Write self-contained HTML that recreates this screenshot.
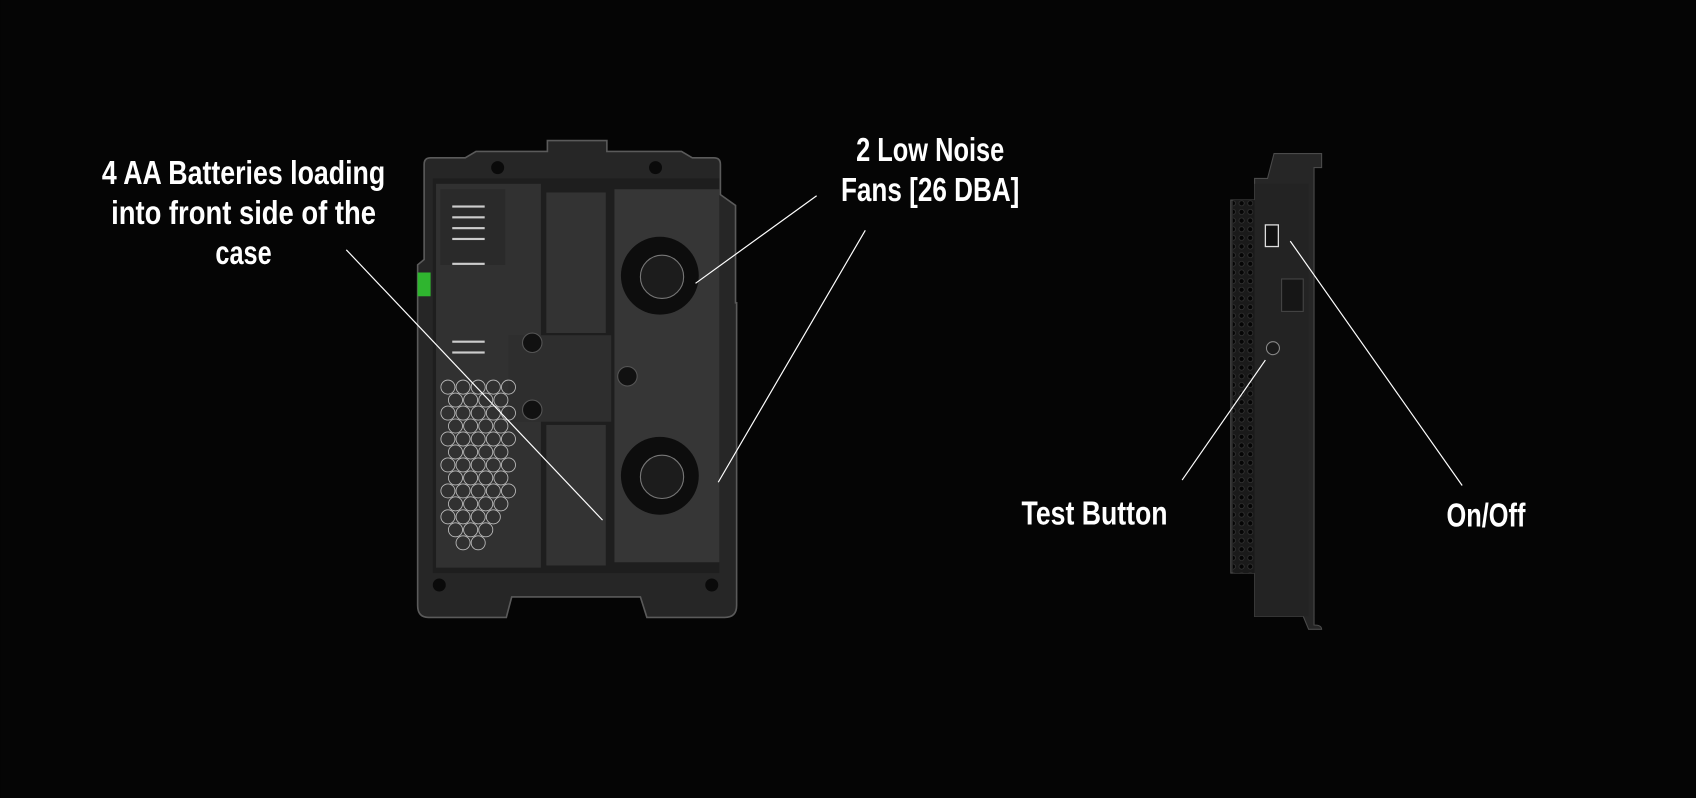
<!DOCTYPE html>
<html><head><meta charset="utf-8"><style>html,body{margin:0;padding:0;background:#050505;}svg{display:block}</style></head>
<body>
<svg width="1696" height="798" viewBox="0 0 1568 738" xmlns="http://www.w3.org/2000/svg">
<rect width="1568" height="738" fill="#050505"/>
<defs>
<pattern id="hex" width="8" height="8" patternUnits="userSpaceOnUse"><rect width="8" height="8" fill="#1a1a1a"/><circle cx="4" cy="4" r="2.4" fill="#050505" stroke="#3a3a3a" stroke-width="0.6"/></pattern>
</defs>
<path d="M506 130 H561 V140 H630 L640 146 H660 Q666 146 666 152 V180 L680 190 V280 H681 V560 Q681 571 670 571 H598 L592 552 H473 L468 571 H396 Q386 571 386 560 V245 L392 240 V152 Q392 146 398 146 H430 L440 140 H506 Z" fill="#262626" stroke="#5a5a5a" stroke-width="1.5"/>
<rect x="400" y="165" width="265" height="365" fill="#1e1e1e"/>
<rect x="403" y="170" width="97" height="355" fill="#313131"/>
<rect x="505" y="178" width="55" height="130" fill="#333"/>
<rect x="505" y="393" width="55" height="130" fill="#333"/>
<rect x="470" y="310" width="95" height="80" fill="#2e2e2e"/>
<path d="M568 175 H665 V520 H568 Z" fill="#363636"/>
<rect x="407" y="175" width="60" height="70" fill="#2a2a2a"/>
<g fill="#ccc"><rect x="418" y="190" width="30" height="2"/><rect x="418" y="200" width="30" height="2"/><rect x="418" y="210" width="30" height="2"/><rect x="418" y="220" width="30" height="2"/><rect x="418" y="243" width="30" height="2"/><rect x="418" y="315" width="30" height="2"/><rect x="418" y="325" width="30" height="2"/></g>
<rect x="386" y="252" width="12" height="22" fill="#2fb52f"/>
<g fill="none" stroke="#bbb" stroke-width="0.8">
<circle cx="414" cy="358" r="6.5"/><circle cx="428" cy="358" r="6.5"/><circle cx="442" cy="358" r="6.5"/><circle cx="456" cy="358" r="6.5"/><circle cx="470" cy="358" r="6.5"/>
<circle cx="421" cy="370" r="6.5"/><circle cx="435" cy="370" r="6.5"/><circle cx="449" cy="370" r="6.5"/><circle cx="463" cy="370" r="6.5"/>
<circle cx="414" cy="382" r="6.5"/><circle cx="428" cy="382" r="6.5"/><circle cx="442" cy="382" r="6.5"/><circle cx="456" cy="382" r="6.5"/><circle cx="470" cy="382" r="6.5"/>
<circle cx="421" cy="394" r="6.5"/><circle cx="435" cy="394" r="6.5"/><circle cx="449" cy="394" r="6.5"/><circle cx="463" cy="394" r="6.5"/>
<circle cx="414" cy="406" r="6.5"/><circle cx="428" cy="406" r="6.5"/><circle cx="442" cy="406" r="6.5"/><circle cx="456" cy="406" r="6.5"/><circle cx="470" cy="406" r="6.5"/>
<circle cx="421" cy="418" r="6.5"/><circle cx="435" cy="418" r="6.5"/><circle cx="449" cy="418" r="6.5"/><circle cx="463" cy="418" r="6.5"/>
<circle cx="414" cy="430" r="6.5"/><circle cx="428" cy="430" r="6.5"/><circle cx="442" cy="430" r="6.5"/><circle cx="456" cy="430" r="6.5"/><circle cx="470" cy="430" r="6.5"/>
<circle cx="421" cy="442" r="6.5"/><circle cx="435" cy="442" r="6.5"/><circle cx="449" cy="442" r="6.5"/><circle cx="463" cy="442" r="6.5"/>
<circle cx="414" cy="454" r="6.5"/><circle cx="428" cy="454" r="6.5"/><circle cx="442" cy="454" r="6.5"/><circle cx="456" cy="454" r="6.5"/><circle cx="470" cy="454" r="6.5"/>
<circle cx="421" cy="466" r="6.5"/><circle cx="435" cy="466" r="6.5"/><circle cx="449" cy="466" r="6.5"/><circle cx="463" cy="466" r="6.5"/>
<circle cx="414" cy="478" r="6.5"/><circle cx="428" cy="478" r="6.5"/><circle cx="442" cy="478" r="6.5"/><circle cx="456" cy="478" r="6.5"/>
<circle cx="421" cy="490" r="6.5"/><circle cx="435" cy="490" r="6.5"/><circle cx="449" cy="490" r="6.5"/>
<circle cx="428" cy="502" r="6.5"/><circle cx="442" cy="502" r="6.5"/>
</g>
<g fill="#0a0a0a"><circle cx="460" cy="155" r="6"/><circle cx="606" cy="155" r="6"/><circle cx="406" cy="541" r="6"/><circle cx="658" cy="541" r="6"/></g>
<g fill="#111" stroke="#555"><circle cx="492" cy="317" r="9"/><circle cx="492" cy="379" r="9"/><circle cx="580" cy="348" r="9"/></g>
<g><circle cx="610" cy="255" r="36" fill="#0d0d0d"/><circle cx="612" cy="256" r="20" fill="#1c1c1c" stroke="#777" stroke-width="1"/>
<circle cx="610" cy="440" r="36" fill="#0d0d0d"/><circle cx="612" cy="441" r="20" fill="#1c1c1c" stroke="#777" stroke-width="1"/></g>
<path d="M1172 165 L1178 142 H1222 V155 H1215 V578 Q1222 578 1222 582 H1210 L1205 570 H1160 V530 H1138 V185 H1160 V165 Z" fill="#262626" stroke="#4a4a4a"/>
<rect x="1140" y="185" width="20" height="345" fill="url(#hex)"/>
<rect x="1160" y="170" width="50" height="400" fill="#232323"/>
<rect x="1185" y="258" width="20" height="30" fill="#161616" stroke="#444"/>
<rect x="1170" y="208" width="12" height="20" fill="#111" stroke="#ddd" stroke-width="1.2"/>
<circle cx="1177" cy="322" r="6" fill="#1a1a1a" stroke="#888"/>
<g stroke="#fff" stroke-width="1.1">
<line x1="320" y1="231" x2="557" y2="481"/>
<line x1="755" y1="181" x2="643" y2="262"/>
<line x1="800" y1="213" x2="664" y2="446"/>
<line x1="1093" y1="444" x2="1170" y2="333"/>
<line x1="1352" y1="449" x2="1193" y2="223"/>
</g>
<g fill="#fff" font-family="Liberation Sans, sans-serif" font-size="31" font-weight="bold" text-anchor="middle">
<text x="225" y="170" textLength="262" lengthAdjust="spacingAndGlyphs">4 AA Batteries loading</text>
<text x="225" y="207" textLength="245" lengthAdjust="spacingAndGlyphs">into front side of the</text>
<text x="225" y="244" textLength="52" lengthAdjust="spacingAndGlyphs">case</text>
<text x="860" y="149" textLength="137" lengthAdjust="spacingAndGlyphs">2 Low Noise</text>
<text x="860" y="186" textLength="165" lengthAdjust="spacingAndGlyphs">Fans [26 DBA]</text>
<text x="1012" y="485" textLength="135" lengthAdjust="spacingAndGlyphs">Test Button</text>
<text x="1374" y="487" textLength="73" lengthAdjust="spacingAndGlyphs">On/Off</text>
</g>
</svg>
</body></html>
